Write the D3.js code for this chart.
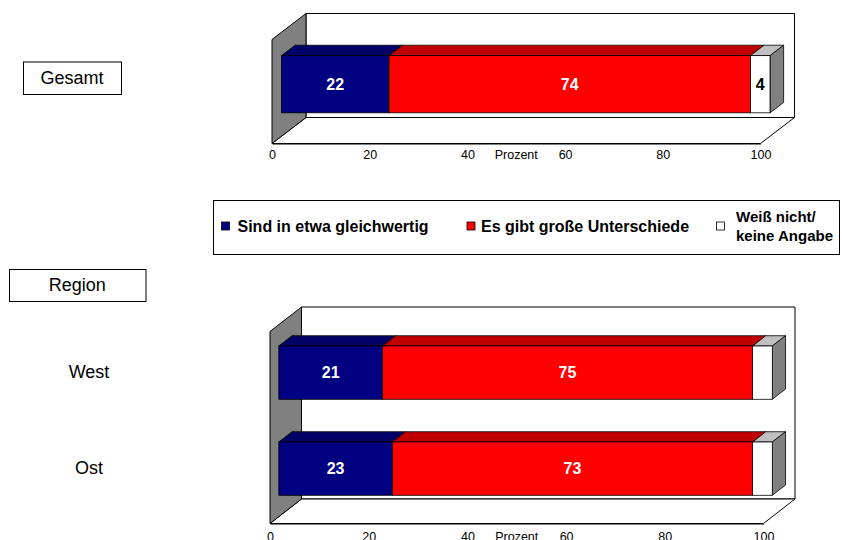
<!DOCTYPE html>
<html>
<head>
<meta charset="utf-8">
<script src="https://cdn.jsdelivr.net/npm/d3@7"></script>
<style>
  html, body { margin: 0; padding: 0; background: #fff; }
  svg { display: block; font-family: "Liberation Sans", Arial, sans-serif; }
</style>
</head>
<body>
<svg id="chart" width="842" height="540"></svg>
<script>
// Survey answers in percent, one entry per row: Gesamt, West, Ost
const rowLabels = ["Gesamt", "West", "Ost"];
const gleichwertig = [22, 21, 23];
const unterschiede = [74, 75, 73];
const weissNicht = [4, 4, 4];
const weissNichtLabelled = [true, false, false];

const seriesNames = ["Sind in etwa gleichwertig", "Es gibt große Unterschiede", "Weiß nicht/\nkeine Angabe"];
const seriesFront = ["#000080", "#FF0000", "#FFFFFF"];
const seriesTop = ["#000066", "#C00000", "#C0C0C0"];
const seriesLabelColor = ["#FFFFFF", "#FFFFFF", "#000000"];
const axisTicks = [0, 20, 40, 60, 80, 100];

const svg = d3.select("#chart");

function rowData(i) {
  const vals = [gleichwertig[i], unterschiede[i], weissNicht[i]];
  let acc = 0;
  return vals.map((v, s) => {
    const seg = { row: rowLabels[i], series: s, value: v, start: acc, end: acc + v,
                  labelled: s < 2 || weissNichtLabelled[i] };
    acc += v;
    return seg;
  });
}

// A 3D-looking stacked bar panel: back wall, floor, grey side wall, then bars.
function drawPanel(rows, geo) {
  const g = svg.append("g");
  const x = d3.scaleLinear().domain([0, 100]).range([geo.x0, geo.x1]);
  const y = d3.scaleBand().domain(rows.map(i => rowLabels[i]))
    .range([geo.yTop, geo.yBot]).paddingInner(geo.pad).paddingOuter(geo.pad / 2);
  const dx = geo.dx, dy = geo.dy;
  const pts = a => a.map(p => p.join(",")).join(" ");

  // back wall
  g.append("polygon")
    .attr("points", pts([[geo.x0 + dx, geo.yTop + dy], [geo.x1 + dx, geo.yTop + dy],
                         [geo.x1 + dx, geo.yBot + dy], [geo.x0 + dx, geo.yBot + dy]]))
    .attr("fill", "#fff").attr("stroke", "#000").attr("stroke-width", 1);
  // floor
  g.append("polygon")
    .attr("points", pts([[geo.x0, geo.yBot], [geo.x1, geo.yBot],
                         [geo.x1 + dx, geo.yBot + dy], [geo.x0 + dx, geo.yBot + dy]]))
    .attr("fill", "#fff").attr("stroke", "#000").attr("stroke-width", 1);
  // left wall
  g.append("polygon")
    .attr("points", pts([[geo.x0, geo.yTop], [geo.x0 + dx, geo.yTop + dy],
                         [geo.x0 + dx, geo.yBot + dy], [geo.x0, geo.yBot]]))
    .attr("fill", "#808080").attr("stroke", "#000").attr("stroke-width", 1);

  // bar depth placement inside the box
  const fx = dx * geo.front, fy = dy * geo.front;
  const bx = dx * geo.depth, by = dy * geo.depth;
  const centers = {};

  rows.forEach(i => {
    const segs = rowData(i);
    const yb = y(rowLabels[i]) + fy;
    const h = y.bandwidth();
    centers[rowLabels[i]] = yb + h / 2;
    const bar = g.append("g");
    segs.forEach(s => {
      const xa = x(s.start) + fx, xb = x(s.end) + fx;
      bar.append("polygon")
        .attr("points", pts([[xa, yb], [xa + bx, yb + by], [xb + bx, yb + by], [xb, yb]]))
        .attr("fill", seriesTop[s.series]).attr("stroke", "#000").attr("stroke-width", 0.8);
    });
    const last = segs[segs.length - 1];
    const xe = x(last.end) + fx;
    bar.append("polygon")
      .attr("points", pts([[xe, yb], [xe + bx, yb + by], [xe + bx, yb + h + by], [xe, yb + h]]))
      .attr("fill", "#808080").attr("stroke", "#000").attr("stroke-width", 0.8);
    segs.forEach(s => {
      const xa = x(s.start) + fx, xb = x(s.end) + fx;
      bar.append("rect")
        .attr("x", xa).attr("y", yb).attr("width", xb - xa).attr("height", h)
        .attr("fill", seriesFront[s.series]).attr("stroke", "#000").attr("stroke-width", 0.8);
      if (s.labelled) {
        bar.append("text")
          .attr("x", (xa + xb) / 2).attr("y", yb + h / 2)
          .attr("dy", "0.36em").attr("text-anchor", "middle")
          .attr("font-size", 16).attr("font-weight", "bold")
          .attr("fill", seriesLabelColor[s.series])
          .text(s.value);
      }
    });
  });

  // value axis along the front floor edge
  const axis = g.append("g").attr("transform", `translate(0,${geo.yBot})`)
    .call(d3.axisBottom(x).tickValues(axisTicks).tickSize(0).tickPadding(geo.tickPad));
  axis.select(".domain").attr("stroke", "#000");
  axis.selectAll("text").attr("font-size", 12.5).attr("fill", "#000")
    .attr("font-family", "Liberation Sans, Arial, sans-serif");
  g.append("text")
    .attr("x", (x(40) + x(60)) / 2).attr("y", geo.yBot + geo.tickPad).attr("dy", "0.71em")
    .attr("text-anchor", "middle").attr("font-size", 12.5).text("Prozent");

  return { x, y, centers };
}

// Gesamt panel
const panelGesamt = drawPanel([0], { x0: 272, x1: 760.5, yTop: 39.5, yBot: 143.5, dx: 34, dy: -26,
                                     pad: 0.45, front: 0.28, depth: 0.4, tickPad: 7 });
// Region panel
const panelRegion = drawPanel([1, 2], { x0: 270, x1: 763.5, yTop: 331.5, yBot: 523.5, dx: 31.5, dy: -24.5,
                                        pad: 0.445, front: 0.28, depth: 0.42, tickPad: 8.5 });

// boxed captions
function captionBox(text, x0, y0, w, h) {
  svg.append("rect").attr("x", x0 + 0.5).attr("y", y0 + 0.5).attr("width", w).attr("height", h)
    .attr("fill", "#fff").attr("stroke", "#000").attr("stroke-width", 1);
  svg.append("text").attr("x", x0 + w / 2).attr("y", y0 + h / 2).attr("dy", "0.36em")
    .attr("text-anchor", "middle").attr("font-size", 18).text(text);
}
captionBox(rowLabels[0], 23, 61.5, 98, 32.5);
captionBox("Region", 9, 269, 136.5, 32);

// row labels for the region panel
[1, 2].forEach(i => {
  svg.append("text").attr("x", 89).attr("y", panelRegion.centers[rowLabels[i]] - 1.5)
    .attr("dy", "0.36em").attr("text-anchor", "middle").attr("font-size", 18).text(rowLabels[i]);
});

// legend
const legend = svg.append("g");
legend.append("rect").attr("x", 213.5).attr("y", 200.5).attr("width", 626).attr("height", 54)
  .attr("fill", "#fff").attr("stroke", "#000").attr("stroke-width", 1);
const legendX = [221, 466.5, 716];
const legendFont = [16, 16, 15];
seriesNames.forEach((name, s) => {
  const item = legend.append("g").attr("transform", `translate(${legendX[s]},226.5)`);
  item.append("rect").attr("x", 0.5).attr("y", -4.5).attr("width", 8).attr("height", 8)
    .attr("fill", seriesFront[s]).attr("stroke", "#000").attr("stroke-width", 0.8);
  const lines = name.split("\n");
  lines.forEach((ln, k) => {
    item.append("text").attr("x", [16.5, 14.5, 20][s])
      .attr("y", (k - (lines.length - 1) / 2) * 19).attr("dy", "0.36em")
      .attr("font-size", legendFont[s]).attr("font-weight", "bold").text(ln);
  });
});
</script>
</body>
</html>
